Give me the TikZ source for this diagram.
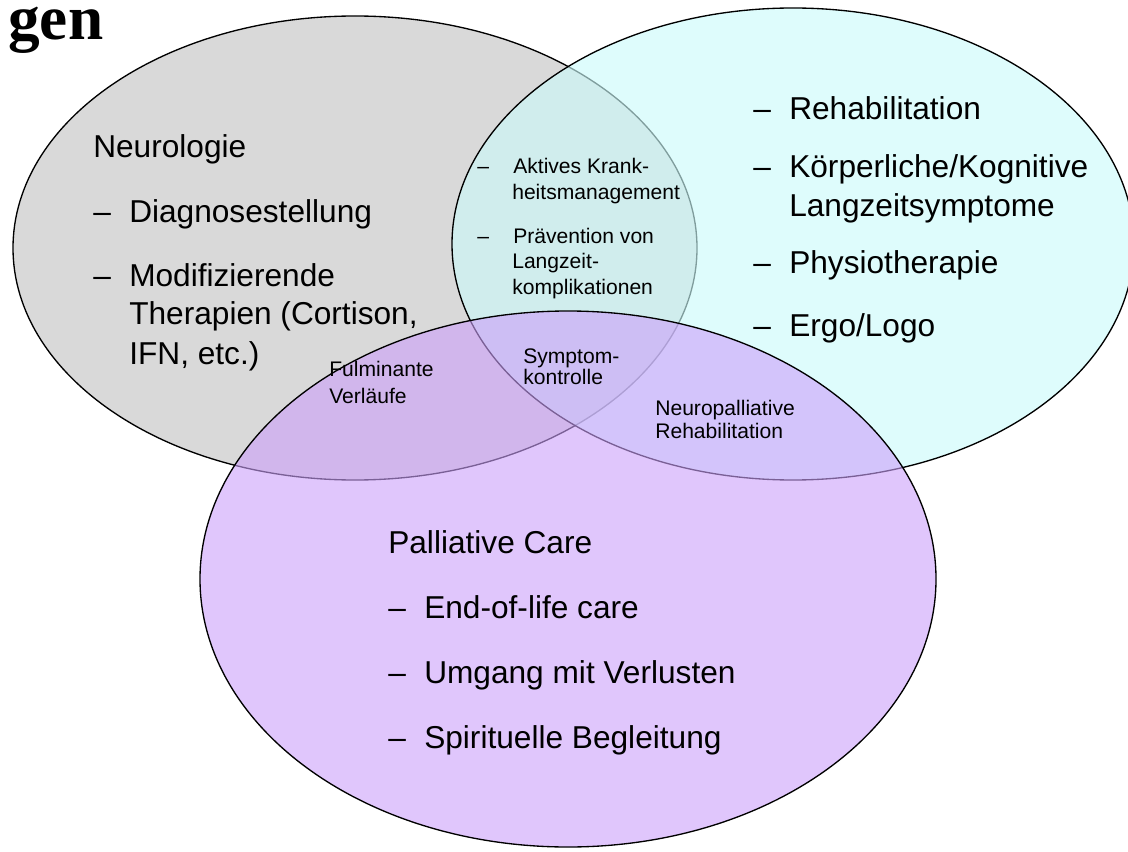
\documentclass[tikz,border=0pt]{standalone}
\usepackage{fontspec}
\setmainfont{Liberation Sans}
\newfontfamily\headfont{Liberation Serif}
\definecolor{neurogrey}{RGB}{217,217,217}
\definecolor{rehacyan}{RGB}{203,250,250}
\definecolor{pallpurple}{RGB}{204,160,250}
\newcommand{\bul}{\makebox[25.6pt][l]{\textendash}}
\tikzset{
  biglabel/.style={anchor=base west, inner sep=0pt, font=\fontsize{22.5}{27}\selectfont},
  smalllabel/.style={anchor=base west, inner sep=0pt, font=\fontsize{15}{18}\selectfont},
  circ/.style={line width=0.95pt},
}

\begin{document}
\begin{tikzpicture}[line cap=round,line join=round,x=0.025cm,y=-0.025cm]
\useasboundingbox (0,0) rectangle (1128,852);
% the three fields
\draw[circ, fill=neurogrey] (355,248) ellipse [x radius=342, y radius=232];
\draw[circ, fill=rehacyan, fill opacity=0.63] (793,244) ellipse [x radius=341, y radius=236];
\draw[circ, fill=pallpurple, fill opacity=0.6] (568,579) ellipse [x radius=368, y radius=268];

\node[anchor=base west, inner sep=0pt, font=\headfont\bfseries\fontsize{45}{48}\selectfont] (title) at (8,40) {gen};

% Neurologie
\node[biglabel] (neu) at (93,158) {Neurologie};
\node[biglabel] (neuA) at (93,223) {\bul Diagnosestellung};
\node[biglabel] (neuB) at (93,286) {\bul Modifizierende};
\node[biglabel] (neuBb) at (129,324) {Therapien (Cortison,};
\node[biglabel] (neuBc) at (129,364) {IFN, etc.)};

% Rehabilitation
\node[biglabel] (rehA) at (753,120) {\bul Rehabilitation};
\node[biglabel] (rehB) at (753,178) {\bul Körperliche/Kognitive};
\node[biglabel] (rehBb) at (789,217) {Langzeitsymptome};
\node[biglabel] (rehC) at (753,274) {\bul Physiotherapie};
\node[biglabel] (rehD) at (753,336) {\bul Ergo/Logo};

% overlaps
\node[smalllabel] (ovA) at (477,174) {\bul Aktives Krank-};
\node[smalllabel] (ovAb) at (512,200) {heitsmanagement};
\node[smalllabel] (ovB) at (477,244) {\bul Prävention von};
\node[smalllabel] (ovBb) at (512,269) {Langzeit-};
\node[smalllabel] (ovBc) at (512,294) {komplikationen};
\node[smalllabel] (sym) at (523,363) {Symptom-};
\node[smalllabel] (symb) at (523,384) {kontrolle};
\node[smalllabel] (ful) at (329,376) {Fulminante};
\node[smalllabel] (fulb) at (329,403) {Verläufe};
\node[smalllabel] (npr) at (655,415) {Neuropalliative};
\node[smalllabel] (nprb) at (655,438) {Rehabilitation};

% Palliative Care
\node[biglabel] (pal) at (388,553) {Palliative Care};
\node[biglabel] (palA) at (388,618) {\bul End-of-life care};
\node[biglabel] (palB) at (388,683) {\bul Umgang mit Verlusten};
\node[biglabel] (palC) at (388,748) {\bul Spirituelle Begleitung};
\end{tikzpicture}
\end{document}
